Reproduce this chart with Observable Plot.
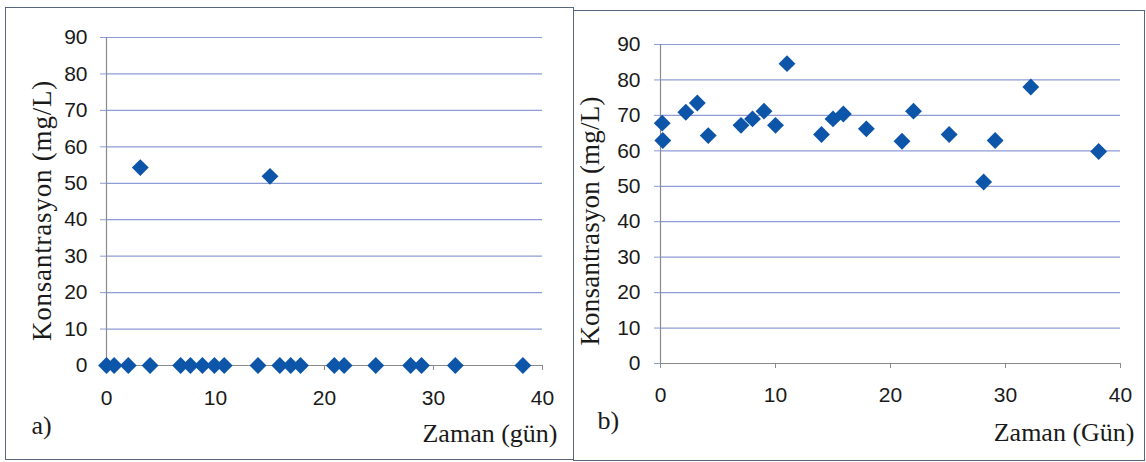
<!DOCTYPE html>
<html>
<head>
<meta charset="utf-8">
<script src="https://cdn.jsdelivr.net/npm/d3@7"></script>
<script src="https://cdn.jsdelivr.net/npm/@observablehq/plot@0.6"></script>
<style>
  html, body { margin: 0; padding: 0; background: #fff; }
  #wrap { position: relative; width: 1146px; height: 462px; background: #fff; overflow: hidden; }
  .panel { position: absolute; box-sizing: border-box; border: 1px solid #56667f; background: #fff; }
  .panel svg { display: block; }
</style>
</head>
<body>
<div id="wrap">
  <div id="panelA" class="panel" style="left:5px; top:7px; width:569px; height:453px;"></div>
  <div id="panelB" class="panel" style="left:573px; top:10px; width:572px; height:451px;"></div>
</div>
<script>
// Axis ticks shared by both panels
const xTicks = [0, 10, 20, 30, 40];
const yTicks = [0, 10, 20, 30, 40, 50, 60, 70, 80, 90];

// Panel a) – sampling day and measured concentration
const daysA = [0, 0.7, 2, 3.1, 4, 6.8, 7.7, 8.8, 9.9, 10.8, 13.9, 15, 15.9, 16.9, 17.8, 20.9, 21.8, 24.7, 27.9, 28.9, 32, 38.2];
const concA = [0, 0, 0, 54.3, 0, 0, 0, 0, 0, 0, 0, 51.9, 0, 0, 0, 0, 0, 0, 0, 0, 0, 0];

// Panel b) – sampling day and measured concentration
const daysB = [0.15, 0.2, 2.2, 3.2, 4.15, 7.0, 8.0, 9.0, 10.0, 11.0, 14.0, 15.0, 15.9, 17.9, 21.0, 22.0, 25.1, 28.1, 29.1, 32.2, 38.1];
const concB = [67.8, 62.9, 70.9, 73.5, 64.3, 67.2, 69.0, 71.2, 67.2, 84.6, 64.6, 69.0, 70.4, 66.2, 62.7, 71.2, 64.6, 51.2, 62.9, 78.0, 59.8];

const yTitle = "Konsantrasyon (mg/L)";
const xTitleA = "Zaman (gün)";
const xTitleB = "Zaman (Gün)";
const tagA = "a)";
const tagB = "b)";

const blue = "#0c55a8";
const gridBlue = "#8d9cd4";
const axisGray = "#8a8a8a";
const ink = "#1a1a1a";
const serif = "'Liberation Serif', 'Times New Roman', serif";

function panel(o) {
  const data = o.days.map((d, i) => ({day: d, conc: o.conc[i]}));
  const svg = Plot.plot({
    width: o.width,
    height: o.height,
    marginLeft: o.ml,
    marginRight: o.mr,
    marginTop: o.mt,
    marginBottom: o.mb,
    x: {domain: [0, 40]},
    y: {domain: [0, 90]},
    style: {fontFamily: "'Liberation Sans', Arial, sans-serif", fontSize: "21px", color: ink, background: "transparent", overflow: "visible"},
    marks: [
      Plot.ruleY(yTicks.filter((d) => d > 0), {stroke: gridBlue, strokeWidth: 1.2}),
      Plot.ruleX([0], {stroke: axisGray, strokeWidth: 1.2}),
      Plot.ruleY([0], {stroke: axisGray, strokeWidth: 1.2}),
      Plot.axisY(yTicks, {tickSize: 6, tickPadding: o.yPad, stroke: gridBlue, fill: ink, label: null, fontSize: 21}),
      Plot.axisX(xTicks, {tickSize: 5, tickPadding: o.xPad, stroke: axisGray, fill: ink, label: null, fontSize: 21}),
      Plot.dot(data, {x: "day", y: "conc", symbol: "diamond2", r: 7.6, fill: blue, stroke: "none"}),
      Plot.text([yTitle], {text: (d) => d, frameAnchor: "left", textAnchor: "middle", rotate: -90, dx: o.yTitleDx, dy: o.yTitleDy,
        fontFamily: serif, fontSize: 27, fill: ink, lineAnchor: "middle"}),
      Plot.text([o.xTitle], {text: (d) => d, frameAnchor: "bottom-right", textAnchor: "end", dx: o.xTitleDx, dy: o.xTitleDy,
        fontFamily: serif, fontSize: 26, fill: ink, lineAnchor: "middle"}),
      Plot.text([o.tag], {text: (d) => d, frameAnchor: "bottom-left", textAnchor: "start", dx: o.tagDx, dy: o.tagDy,
        fontFamily: serif, fontSize: 26, fill: ink, lineAnchor: "middle"})
    ]
  });
  // widen the vertical title a little, as printed
  d3.select(svg).selectAll("text")
    .filter(function () { return this.textContent === yTitle; })
    .style("letter-spacing", o.yTitleSpacing + "px");
  return svg;
}

document.getElementById("panelA").append(panel({
  days: daysA, conc: concA, width: 567, height: 451,
  ml: 100, mr: 31, mt: 29, mb: 94, yPad: 13, xPad: 20,
  yTitleDx: -64, yTitleDy: 9, yTitleSpacing: 0.8,
  xTitle: xTitleA, xTitleDx: 15, xTitleDy: 68,
  tag: tagA, tagDx: -75, tagDy: 60
}));

document.getElementById("panelB").append(panel({
  days: daysB, conc: concB, width: 570, height: 449,
  ml: 86, mr: 24, mt: 33, mb: 97, yPad: 14, xPad: 19,
  yTitleDx: -70, yTitleDy: 17, yTitleSpacing: 0.2,
  xTitle: xTitleB, xTitleDx: 14, xTitleDy: 69,
  tag: tagB, tagDx: -63, tagDy: 57
}));
</script>
</body>
</html>
